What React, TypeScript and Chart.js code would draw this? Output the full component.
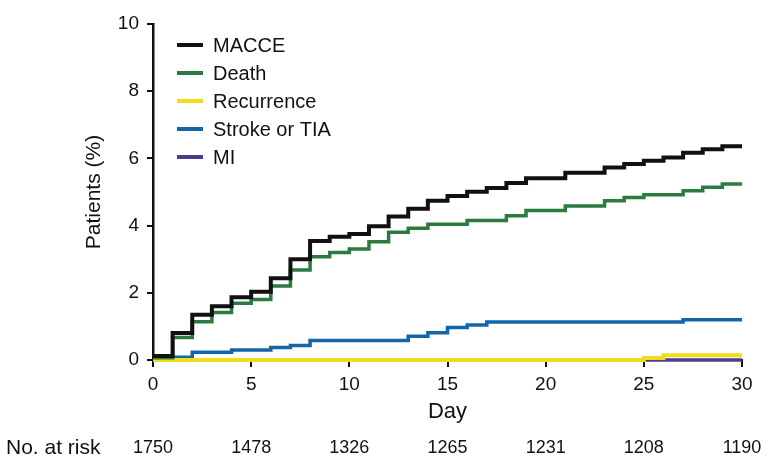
import React, { useEffect, useRef } from 'react';
import { Chart, registerables } from 'chart.js';

Chart.register(...registerables);

const FONT = '"Liberation Sans", Arial, Helvetica, sans-serif';

const days = [0, 1, 2, 3, 4, 5, 6, 7, 8, 9, 10, 11, 12, 13, 14, 15, 16, 17, 18, 19, 20, 21, 22, 23, 24, 25, 26, 27, 28, 29, 30];
const macce = [0.12, 0.8, 1.35, 1.6, 1.87, 2.03, 2.43, 3.0, 3.54, 3.67, 3.75, 3.98, 4.27, 4.5, 4.74, 4.88, 5.01, 5.12, 5.27, 5.41, 5.41, 5.57, 5.57, 5.73, 5.83, 5.93, 6.03, 6.17, 6.27, 6.36, 6.36];
const death = [0.07, 0.67, 1.14, 1.41, 1.69, 1.8, 2.2, 2.68, 3.07, 3.2, 3.3, 3.52, 3.8, 3.92, 4.04, 4.04, 4.15, 4.15, 4.29, 4.45, 4.45, 4.58, 4.58, 4.74, 4.84, 4.92, 4.92, 5.04, 5.14, 5.24, 5.24];
const recurrence = [0, 0, 0, 0, 0, 0, 0, 0, 0, 0, 0, 0, 0, 0, 0, 0, 0, 0, 0, 0, 0, 0, 0, 0, 0, 0.06, 0.14, 0.14, 0.14, 0.14, 0.14];
const strokeTia = [0.08, 0.08, 0.23, 0.23, 0.3, 0.3, 0.37, 0.43, 0.58, 0.58, 0.58, 0.58, 0.58, 0.71, 0.81, 0.97, 1.04, 1.13, 1.13, 1.13, 1.13, 1.13, 1.13, 1.13, 1.13, 1.13, 1.13, 1.2, 1.2, 1.2, 1.2];
const mi = [0, 0, 0, 0, 0, 0, 0, 0, 0, 0, 0, 0, 0, 0, 0, 0, 0, 0, 0, 0, 0, 0, 0, 0, 0, 0, 0, 0, 0, 0, 0];

const seriesLabels = ['MACCE', 'Death', 'Recurrence', 'Stroke or TIA', 'MI'];
const seriesColors = ['#111111', '#2b7a3f', '#f0dc1a', '#1565a8', '#4a3b8f'];
const seriesWidths = [4, 3.5, 4, 3.5, 3.5];

const riskDays = [0, 5, 10, 15, 20, 25, 30];
const atRisk = [1750, 1478, 1326, 1265, 1231, 1208, 1190];

const overlayPlugin = {
  id: 'overlay',
  afterDraw(chart: any) {
    const ctx = chart.ctx;
    ctx.save();
    chart.data.datasets.forEach((ds: any, i: number) => {
      const y = 45 + i * 28;
      ctx.strokeStyle = ds.borderColor;
      ctx.lineWidth = 4;
      ctx.beginPath();
      ctx.moveTo(177, y);
      ctx.lineTo(203, y);
      ctx.stroke();
      ctx.fillStyle = '#111';
      ctx.font = '20px ' + FONT;
      ctx.textBaseline = 'middle';
      ctx.textAlign = 'left';
      ctx.fillText(ds.label, 213, y + 1);
    });
    const xs = chart.scales.x;
    ctx.font = '18px ' + FONT;
    ctx.fillStyle = '#111';
    ctx.textBaseline = 'middle';
    ctx.textAlign = 'center';
    riskDays.forEach((d, i) => {
      ctx.fillText(String(atRisk[i]), xs.getPixelForValue(d), 448);
    });
    ctx.textAlign = 'left';
    ctx.font = '21px ' + FONT;
    ctx.fillText('No. at risk', 6, 448);
    ctx.restore();
  },
};

export default function App() {
  const ref = useRef<HTMLCanvasElement | null>(null);
  useEffect(() => {
    if (!ref.current) return;
    const series = [macce, death, recurrence, strokeTia, mi];
    const chart = new Chart(ref.current, {
      type: 'line',
      data: {
        datasets: series.map((vals, i) => ({
          label: seriesLabels[i],
          data: days.map((d, j) => ({ x: d, y: vals[j] })),
          borderColor: seriesColors[i],
          backgroundColor: seriesColors[i],
          borderWidth: seriesWidths[i],
          stepped: true,
          pointRadius: 0,
          fill: false,
          clip: false,
        })),
      },
      options: {
        responsive: false,
        animation: false,
        layout: { padding: { left: 0, right: 27, top: 24, bottom: 0 } },
        plugins: { legend: { display: false }, tooltip: { enabled: false } },
        scales: {
          x: {
            type: 'linear',
            min: 0,
            max: 30,
            ticks: { stepSize: 5, font: { size: 19, family: FONT }, color: '#111', padding: 6, maxRotation: 0 },
            grid: { drawOnChartArea: false, tickLength: 7, color: '#111', lineWidth: 2 },
            border: { color: '#111', width: 2 },
            title: { display: true, text: 'Day', font: { size: 22, family: FONT }, color: '#111', padding: { top: 0, bottom: 38 } },
            afterFit(s: any) { s.height = 103; },
          },
          y: {
            min: 0,
            max: 10,
            ticks: { stepSize: 2, font: { size: 19, family: FONT }, color: '#111', padding: 8 },
            grid: { drawOnChartArea: false, tickLength: 6, color: '#111', lineWidth: 2 },
            border: { color: '#111', width: 2.5 },
            title: { display: true, text: 'Patients (%)', font: { size: 21, family: FONT }, color: '#111', padding: { top: 82, bottom: 0 } },
            afterFit(s: any) { s.width = 153; },
          },
        },
      },
      plugins: [overlayPlugin],
    } as any);
    return () => chart.destroy();
  }, []);
  return (
    <div style={{ position: 'absolute', left: 0, top: 0, width: 769, height: 463, background: '#fff' }}>
      <canvas ref={ref} width={769} height={463} style={{ display: 'block' }} />
    </div>
  );
}
